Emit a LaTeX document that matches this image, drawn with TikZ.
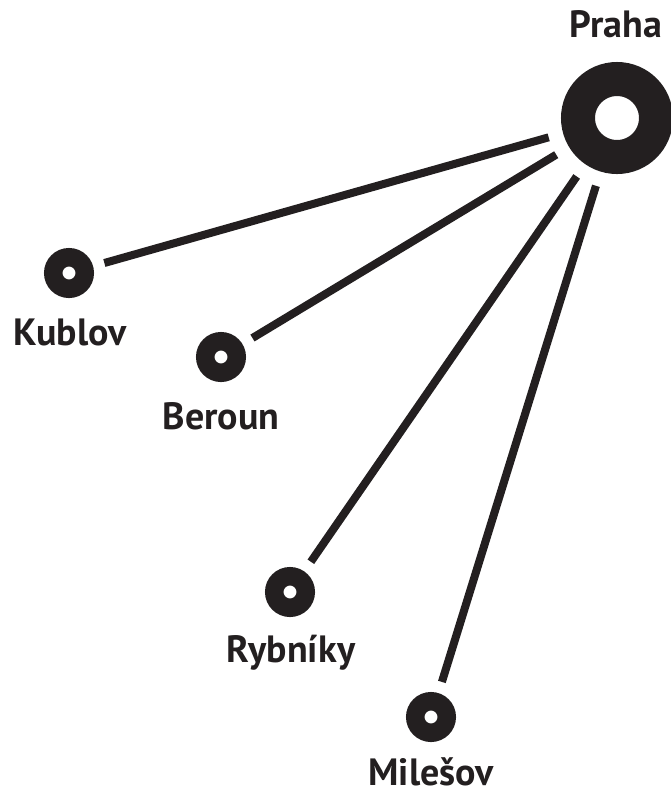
\documentclass[tikz,border=0pt]{standalone}
\usepackage{fontspec}
\setmainfont{PT Sans}
\definecolor{ink}{RGB}{35,31,32}
\begin{document}
\begin{tikzpicture}[x=1pt,y=-1pt,
  bigring/.style={circle,draw=ink,line width=34pt,minimum size=78pt,inner sep=0pt,outer sep=0pt},
  smallring/.style={circle,draw=ink,line width=18.5pt,minimum size=31.5pt,inner sep=0pt,outer sep=0pt},
  place/.style={anchor=base,text=ink,font=\fontsize{38}{38}\selectfont\bfseries,inner sep=0pt},
  road/.style={draw=ink,line width=8pt,shorten <=21pt,shorten >=32pt}]
\useasboundingbox[fill=white] (0,0) rectangle (671,793);
\node[bigring] (praha) at (617,118) {};
\node[smallring] (kublov) at (69,273) {};
\node[smallring] (beroun) at (221,357) {};
\node[smallring] (rybniky) at (290,592) {};
\node[smallring] (milesov) at (431,717) {};
\node[place] (lpraha) at (616,37) {Praha};
\node[place] (lkublov) at (70,345) {Kublov};
\node[place] (lberoun) at (221,429) {Beroun};
\node[place] (lrybniky) at (291,662) {Rybníky};
\node[place] (lmilesov) at (431,785) {Milešov};
\draw[road] (kublov) -- (praha);
\draw[road] (beroun) -- (praha);
\draw[road] (rybniky) -- (praha);
\draw[road] (milesov) -- (praha);
\end{tikzpicture}
\end{document}
